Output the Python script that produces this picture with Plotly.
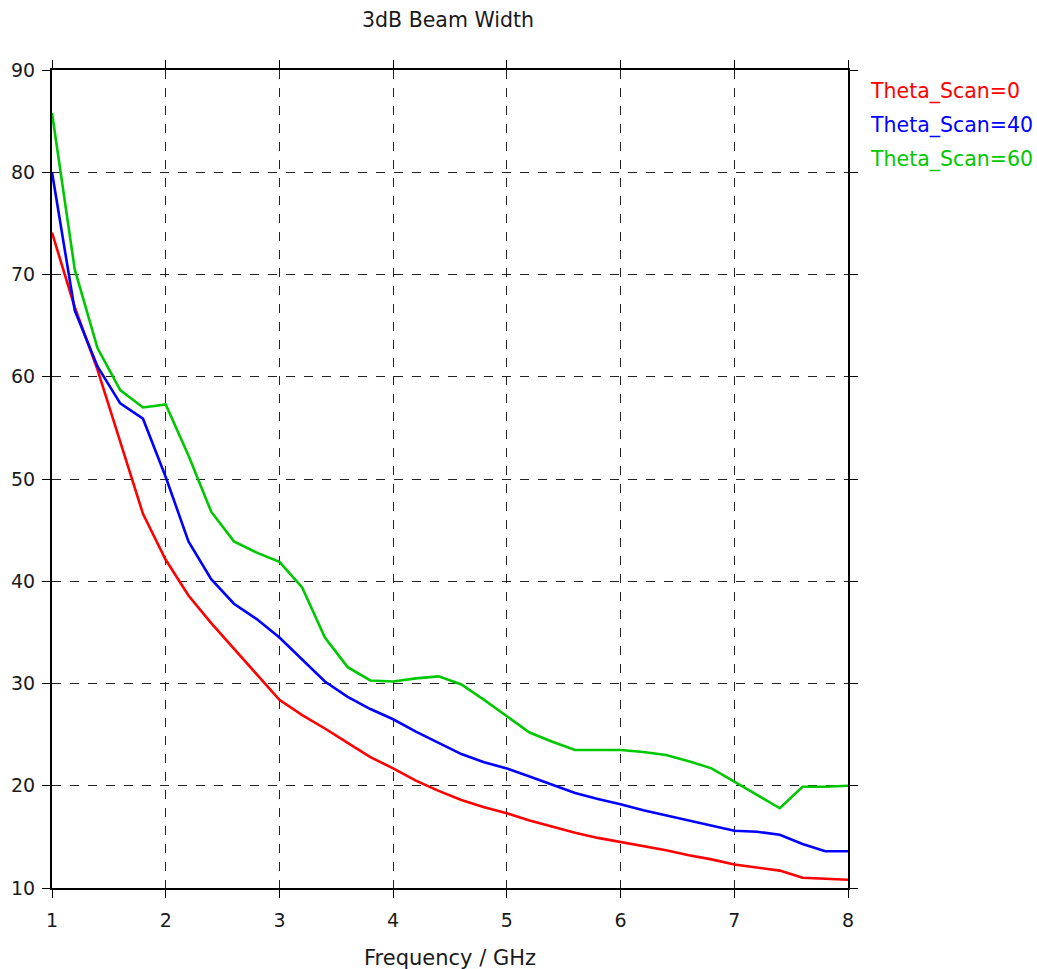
import plotly.graph_objects as go

# Frequency sweep (GHz), 0.2 GHz step
freq_ghz = [1.0, 1.2, 1.4, 1.6, 1.8, 2.0, 2.2, 2.4, 2.6, 2.8, 3.0, 3.2, 3.4, 3.6,
            3.8, 4.0, 4.2, 4.4, 4.6, 4.8, 5.0, 5.2, 5.4, 5.6, 5.8, 6.0, 6.2, 6.4,
            6.6, 6.8, 7.0, 7.2, 7.4, 7.6, 7.8, 8.0]

# 3dB beam width (deg) for each scan angle
bw_scan0 = [74.1, 66.8, 60.7, 53.6, 46.6, 42.1, 38.6, 35.9, 33.4, 30.8, 28.4, 26.9,
            25.6, 24.2, 22.8, 21.7, 20.5, 19.5, 18.6, 17.9, 17.3, 16.6, 16.0, 15.4,
            14.9, 14.5, 14.1, 13.7, 13.2, 12.8, 12.3, 12.0, 11.7, 11.0, 10.9, 10.8]
bw_scan40 = [80.0, 66.5, 61.0, 57.4, 55.9, 50.2, 43.9, 40.2, 37.8, 36.3, 34.5, 32.4,
             30.2, 28.7, 27.5, 26.5, 25.3, 24.2, 23.1, 22.3, 21.7, 20.9, 20.1, 19.3,
             18.7, 18.2, 17.6, 17.1, 16.6, 16.1, 15.6, 15.5, 15.2, 14.3, 13.6, 13.6]
bw_scan60 = [85.8, 70.5, 62.8, 58.7, 57.0, 57.3, 52.3, 46.8, 43.9, 42.8, 41.9, 39.4,
             34.5, 31.6, 30.3, 30.2, 30.5, 30.7, 29.9, 28.4, 26.8, 25.2, 24.3, 23.5,
             23.5, 23.5, 23.3, 23.0, 22.4, 21.7, 20.4, 19.1, 17.8, 19.9, 19.9, 20.0]

series_names = ["Theta_Scan=0", "Theta_Scan=40", "Theta_Scan=60"]
series_colors = ["#ff0000", "#0000ff", "#00c800"]

x_ticks = [1, 2, 3, 4, 5, 6, 7, 8]
y_ticks = [10, 20, 30, 40, 50, 60, 70, 80, 90]

font_family = "DejaVu Sans, Verdana, sans-serif"
text_color = "#1a1a1a"

fig = go.Figure()
for name, ys, col in zip(series_names, [bw_scan0, bw_scan40, bw_scan60], series_colors):
    fig.add_trace(go.Scatter(x=freq_ghz, y=ys, mode="lines", name=name,
                             line=dict(color=col, width=2.6), showlegend=False))

# Coloured text-only legend at the right of the plot
for i, (name, col) in enumerate(zip(series_names, series_colors)):
    fig.add_annotation(text=name, xref="paper", yref="paper",
                       x=1.025, y=0.974 - i * 0.042, xanchor="left", yanchor="middle",
                       showarrow=False, font=dict(color=col, size=20.5, family=font_family))

# X axis caption below the tick labels
fig.add_annotation(text="Frequency / GHz", xref="paper", yref="paper",
                   x=0.5, y=-0.0856, xanchor="center", yanchor="middle", showarrow=False,
                   font=dict(size=21, color=text_color, family=font_family))

axis_common = dict(
    showline=True, linecolor="black", linewidth=2, mirror="allticks",
    ticks="outside", ticklen=8, tickcolor="black", automargin=False,
    showgrid=True, gridcolor="#222222", griddash="dash", gridwidth=1,
    zeroline=False, tickfont=dict(size=19, color=text_color, family=font_family),
)

fig.update_xaxes(range=[1, 8], tickvals=x_ticks, ticklabelstandoff=6, **axis_common)
fig.update_yaxes(range=[10, 90], tickvals=y_ticks, ticklabelstandoff=3, **axis_common)

fig.update_layout(
    width=1037, height=969,
    margin=dict(l=52, r=189, t=70, b=81),
    paper_bgcolor="white", plot_bgcolor="white",
    title=dict(text="3dB Beam Width", x=448 / 1037, xanchor="center",
               y=1 - 20 / 969, yanchor="middle",
               font=dict(size=20.5, color=text_color, family=font_family)),
)

fig.write_html("out.html")
